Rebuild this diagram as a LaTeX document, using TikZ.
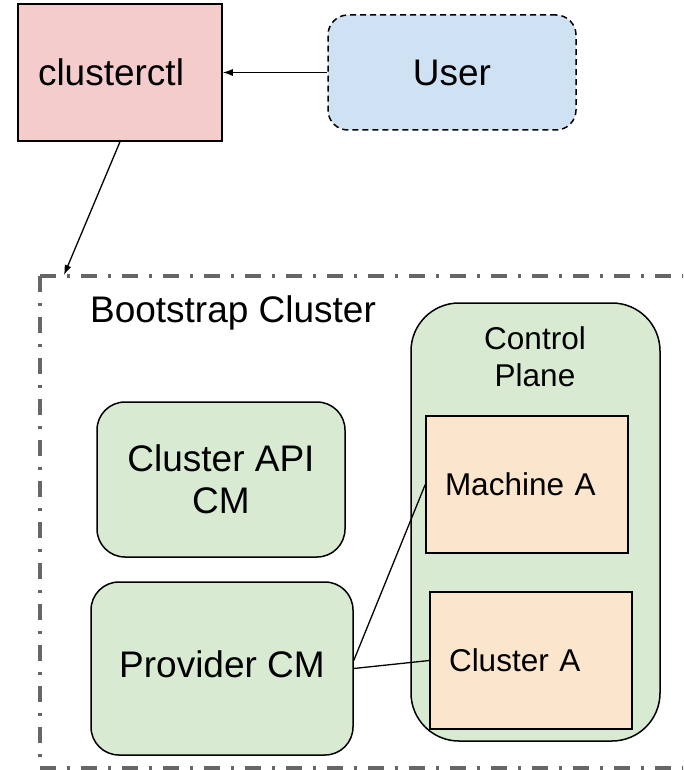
\documentclass[tikz,border=0pt]{standalone}
\usepackage{fontspec}
\setmainfont{Liberation Sans}
\usetikzlibrary{arrows.meta}
\definecolor{pinkfill}{HTML}{F4CCCC}
\definecolor{bluefill}{HTML}{CFE2F3}
\definecolor{greenfill}{HTML}{D9EAD3}
\definecolor{orangefill}{HTML}{FCE5CD}
\definecolor{bordergray}{HTML}{666666}
\begin{document}
\begin{tikzpicture}[x=1pt,y=-1pt,
  box/.style={draw=black, line width=1.5pt, inner sep=0pt, align=center},
  leftbox/.style={box, align=left, inner xsep=19pt, text width=164pt},
  big/.style={font=\fontsize{37}{42}\selectfont},
  small/.style={font=\fontsize{31.5}{37}\selectfont},
  conn/.style={draw=black, line width=1.3pt},
  arr/.style={conn, -{Latex[length=10pt,width=7pt]}},
  frame/.style={draw=bordergray, line width=3.5pt, dash pattern=on 16pt off 11pt on 3pt off 11pt}]
\useasboundingbox (0,0) rectangle (683,770);
\begin{scope}
  \clip (0,0) rectangle (683,770);
  \draw[frame] (40,276) -- (700,276);
  \draw[frame] (40,276) -- (40,768) -- (700,768);
\end{scope}
\node[leftbox, big, fill=pinkfill, inner xsep=20pt, minimum height=137pt] (clusterctl) at (120,72.5) {clusterctl};
\node[box, big, fill=bluefill, dash pattern=on 6pt off 4pt, rounded corners=20pt, minimum width=248pt, minimum height=115pt] (user) at (452,72.5) {User};
\node[big] (bstext) at (233,313) {Bootstrap Cluster};
\node[box, big, fill=greenfill, rounded corners=28pt, minimum width=248pt, minimum height=155pt] (capi) at (221,479.5) {Cluster API\\CM};
\node[box, big, fill=greenfill, rounded corners=28pt, minimum width=262pt, minimum height=173pt] (provider) at (222,668.5) {\raisebox{8pt}{Provider CM}};
\node[box, fill=greenfill, rounded corners=48pt, minimum width=249pt, minimum height=438pt] (cp) at (535.5,522) {};
\node[small, align=center] (cptext) at (535,356.5) {Control\\Plane};
\node[leftbox, small, fill=orangefill, minimum height=137pt] (machine) at (527,484.5) {Machine A};
\node[leftbox, small, fill=orangefill, minimum height=137pt] (clustera) at (531,660.5) {Cluster A};
\coordinate (bsarrow) at (64,275);
\draw[arr] (user.west) -- (clusterctl.east);
\draw[arr] (clusterctl.south) -- (bsarrow);
\draw[conn] ([yshift=8pt]provider.east) -- (machine.west);
\draw[conn] (provider.east) -- (clustera.west);
\end{tikzpicture}
\end{document}
